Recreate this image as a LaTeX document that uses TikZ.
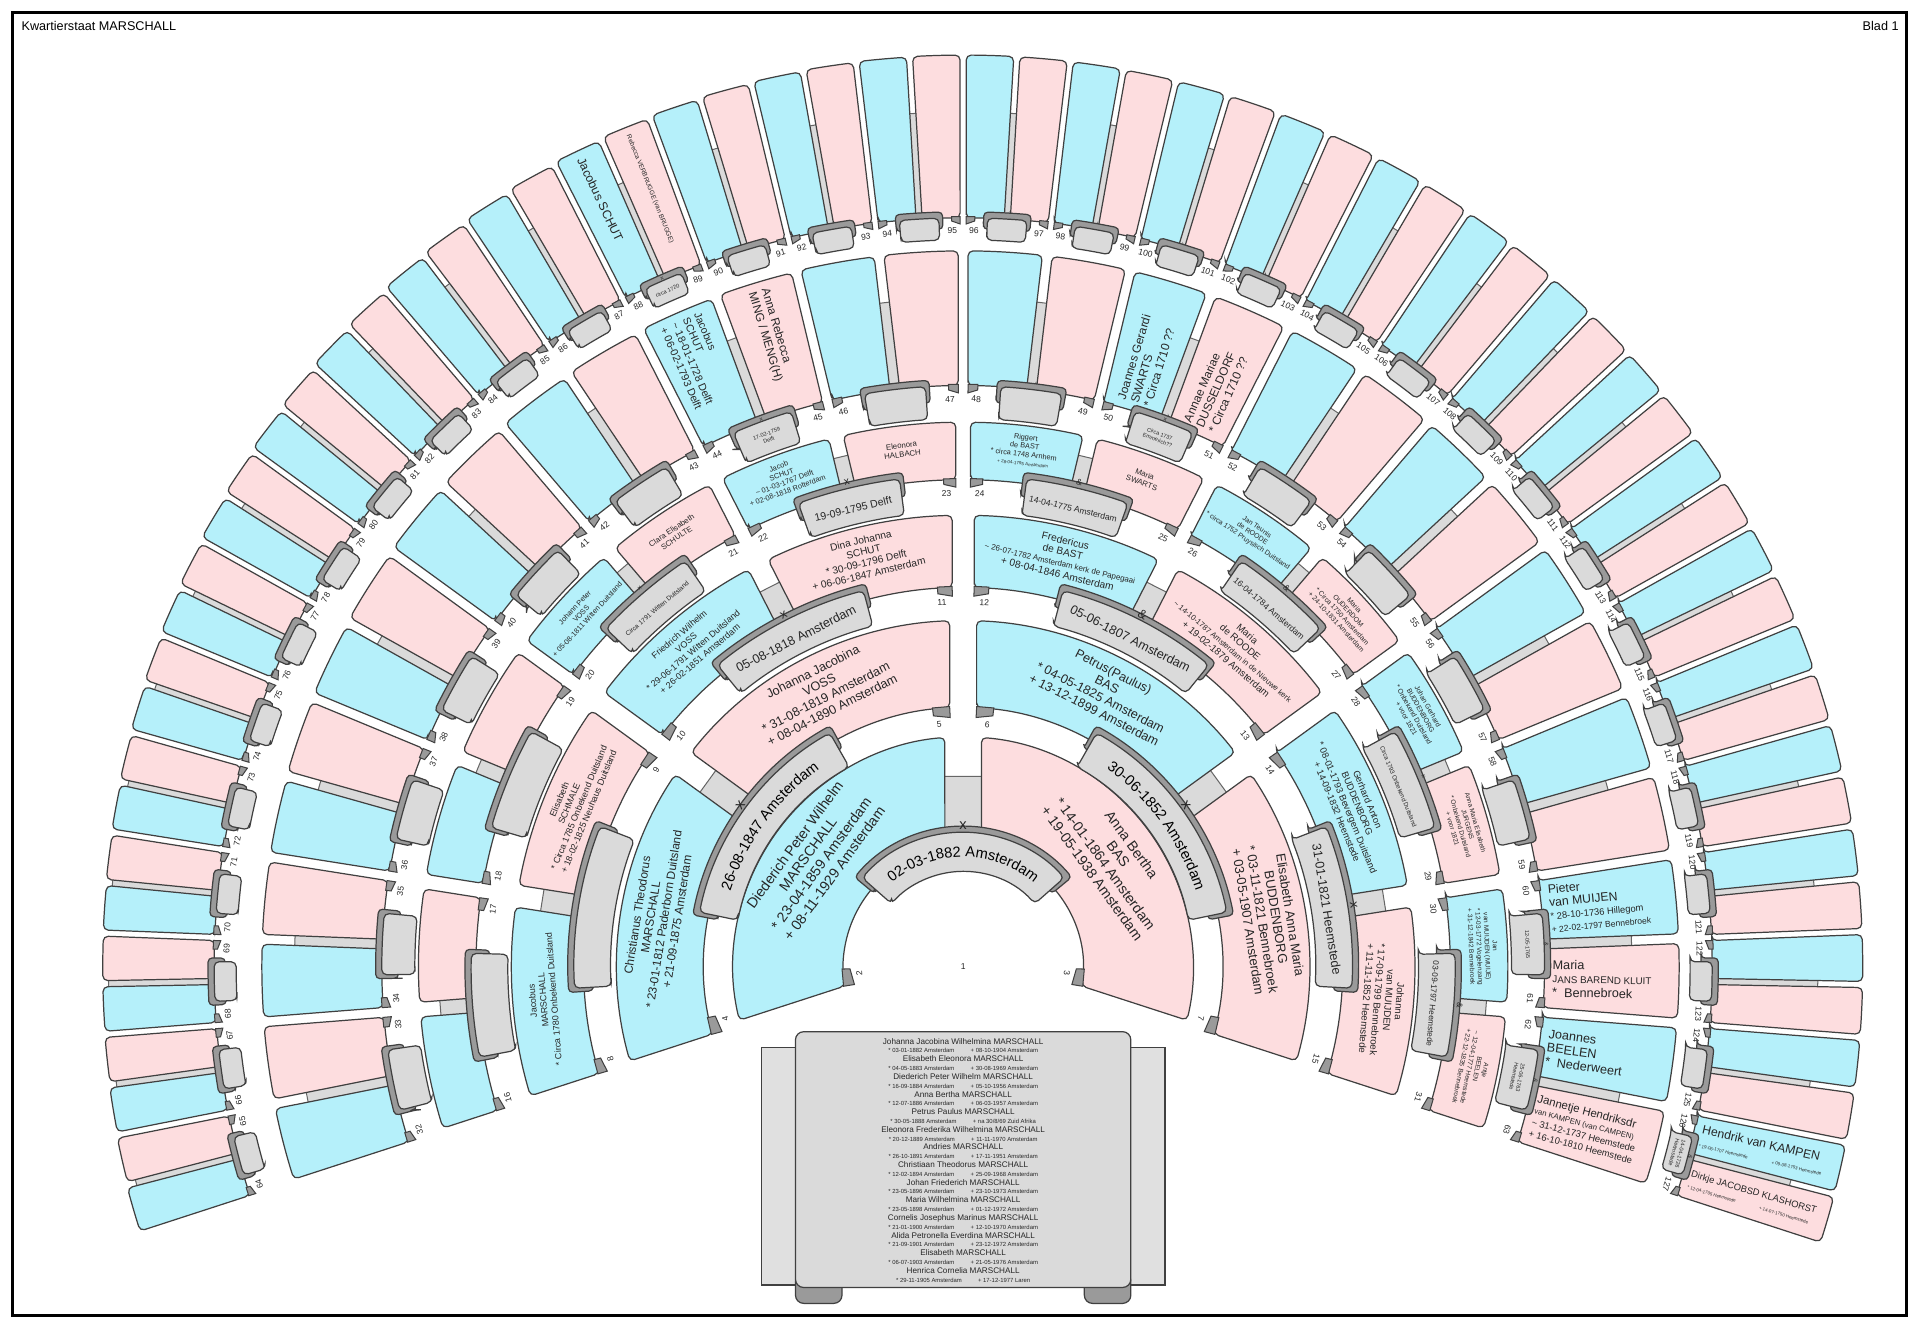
\documentclass[tikz,border=0pt]{standalone}
\usepackage{fontspec}
\setmainfont{Liberation Sans}
\usetikzlibrary{decorations.text}

\definecolor{manblue}{HTML}{B5F0FA}
\definecolor{womanpink}{HTML}{FDDDDF}
\definecolor{ribbon}{HTML}{DADADA}
\definecolor{ribbonback}{HTML}{9A9A9A}
\definecolor{inkgrey}{HTML}{262626}

% ring sizes per generation (index = generation), in px of the sheet
\def\rinner{{0,0,98,212,310,398,475,612}}
\def\router{{0,0,188,283,369,445,585,745}}
\def\shrinkleft{{0,0,0,0,0,0,12,42}}
\def\shrinkright{{0,0,0,0,0,0,0,10}}
\def\halfgap{{0,0,15,11,9,6,4,2.5}}
\def\tabin{{0,0,78,188,288,372,448,594}}
\def\tabout{{0,0,110,220,318,402,475,612}}
\def\flagw{{0,0,14,14,12,10,8,7}}
\def\flagd{{0,0,8,8,7,6,6,5}}

\tikzset{
  personbox/.style={draw=black!75, line width=0.3pt, rounded corners=1.2pt},
  ribbonbox/.style={draw=black!75, line width=0.3pt, fill=ribbon, rounded corners=1.2pt},
  ribbonshade/.style={draw=black!75, line width=0.3pt, fill=ribbonback, rounded corners=1pt},
  stembox/.style={draw=black!60, line width=0.25pt, fill=ribbon},
  flagbox/.style={draw=black!75, line width=0.25pt, fill=ribbonback},
  nrlabel/.style={font=\fontsize{2.1}{2.4}\selectfont, inner sep=0pt, text=inkgrey},
  persontext/.style={align=center, inner sep=0pt, text=inkgrey},
  marktext/.style={inner sep=0pt, text=inkgrey},
}

\newcommand{\genset}[1]{%
  \pgfmathtruncatemacro{\gN}{2^(#1-1)}%
  \pgfmathsetmacro{\gStep}{216/\gN}%
  \pgfmathsetmacro{\gRi}{\rinner[#1]}%
  \pgfmathsetmacro{\gRo}{\router[#1]}%
  \pgfmathsetmacro{\gHg}{\halfgap[#1]}%
  \pgfmathsetmacro{\gTi}{\tabin[#1]}%
  \pgfmathsetmacro{\gTo}{\tabout[#1]}%
  \pgfmathsetmacro{\gFw}{\flagw[#1]}%
  \pgfmathsetmacro{\gFd}{\flagd[#1]}%
}
% outer radius of a box in generation #1 at angle #2
\newcommand{\outerat}[2]{%
  \pgfmathsetmacro{\bRo}{\router[#1]-(#2>90 ? \shrinkleft[#1] : \shrinkright[#1])*cos(#2)^2}%
}

% person text across the ring
\newcommand{\ptext}[5]{%
  \genset{#2}%
  \pgfmathsetmacro{\tMid}{198-(#1-\gN+0.5)*\gStep}%
  \pgfmathsetmacro{\tRad}{0.42*\gRi+0.58*\gRo}%
  \node[persontext, font=\fontsize{#3}{#4}\selectfont, rotate=\tMid-90] (p#1) at (\tMid:\tRad) {#5};%
}
% person text along the radius (outer rings)
\newcommand{\rtext}[5]{%
  \genset{#2}%
  \pgfmathsetmacro{\tMid}{198-(#1-\gN+0.5)*\gStep}%
  \outerat{#2}{\tMid}%
  \ifdim\tMid pt<90pt
    \node[persontext, align=left, anchor=west, font=\fontsize{#3}{#4}\selectfont, rotate=\tMid] (p#1) at (\tMid:\gRi+6) {#5};%
  \else
    \pgfmathsetmacro{\tRot}{\tMid-180}%
    \node[persontext, align=left, anchor=west, font=\fontsize{#3}{#4}\selectfont, rotate=\tRot] (p#1) at (\tMid:\bRo-6) {#5};%
  \fi
}
% marriage text on the ribbon: bent on the two inner rings, straight further out
\newcommand{\mtext}[5]{%
  \genset{#2}%
  \pgfmathsetmacro{\cA}{198-(#1-\gN+1)*\gStep}%
  \pgfmathsetmacro{\tW}{0.49*\gStep}%
  \ifnum#2<4
    \pgfmathsetmacro{\tB}{(\gTi+\gTo)/2-#4*1.15}%
    \path[postaction={decorate}, decoration={text along path, text align=center,
      text={|\fontsize{#4}{#4}\selectfont|#5}}]
      (\cA+\tW:\tB) arc[start angle=\cA+\tW, end angle=\cA-\tW, radius=\tB*0.3pt];%
  \else
    \pgfmathsetmacro{\tB}{(\gTi+\gTo)/2-2}%
    \node[marktext, font=\fontsize{#4}{#4}\selectfont, rotate=\cA-90] (t#1) at (\cA:\tB) {#5};%
  \fi
  \node[marktext, font=\fontsize{#4}{#4}\selectfont, rotate=\cA-90] (m#1) at (\cA:\gTo+5) {#3};%
}
% marriage text on the small ribbons (outer rings)
\newcommand{\mnote}[4]{%
  \genset{#2}%
  \pgfmathsetmacro{\cA}{198-(#1-\gN+1)*\gStep}%
  \pgfmathsetmacro{\tRad}{(\gTi+\gTo)/2}%
  \node[marktext, align=center, font=\fontsize{1.35}{1.6}\selectfont, rotate=\cA-90] (t#1) at (\cA:\tRad) {#4};%
  \node[marktext, font=\fontsize{1.4}{1.6}\selectfont, rotate=\cA-90] (m#1) at (\cA:\gTo+2) {#3};%
}
\newcommand{\kidname}{\fontsize{2.0}{2.16}\selectfont}
\newcommand{\kiddate}{\fontsize{1.45}{2.16}\selectfont}

\begin{document}
\begin{tikzpicture}[x=0.3pt, y=0.3pt]
\useasboundingbox (-787,-292) rectangle (781,790);
\draw[line width=0.75pt] (-777,-285) rectangle (771,780);
\node[anchor=west, inner sep=0pt, font=\fontsize{3.1}{3.6}\selectfont] (title) at (-770,769) {Kwartierstaat MARSCHALL};
\node[anchor=east, inner sep=0pt, font=\fontsize{3.1}{3.6}\selectfont] (sheet) at (765,769) {Blad 1};

% rings, generation by generation
\foreach \g in {2,...,7}{
  \genset{\g}
  \pgfmathtruncatemacro{\gLast}{\gN-1}
  \pgfmathtruncatemacro{\gPairs}{\gN/2-1}
  % stems between partners
  \foreach \k in {0,...,\gPairs}{
    \pgfmathsetmacro{\cA}{198-(2*\k+1)*\gStep}
    \pgfmathsetmacro{\sB}{\gRi+0.65*(\gRo-\gRi)}
    \pgfmathsetmacro{\hw}{(\gHg+1.5)*57.2958}
    \draw[stembox] (\cA+\hw/\gTo:\gTo) -- (\cA+\hw/\sB:\sB) -- (\cA-\hw/\sB:\sB) -- (\cA-\hw/\gTo:\gTo) -- cycle;
  }
  % person boxes with their number
  \foreach \i in {0,...,\gLast}{
    \pgfmathtruncatemacro{\p}{\gN+\i}
    \pgfmathsetmacro{\aA}{198-\i*\gStep}
    \pgfmathsetmacro{\bA}{\aA-\gStep}
    \pgfmathsetmacro{\mA}{\aA-\gStep/2}
    \outerat{\g}{\mA}
    \pgfmathsetmacro{\aI}{\aA-\gHg/\gRi*57.2958}
    \pgfmathsetmacro{\aO}{\aA-\gHg/\bRo*57.2958}
    \pgfmathsetmacro{\bI}{\bA+\gHg/\gRi*57.2958}
    \pgfmathsetmacro{\bO}{\bA+\gHg/\bRo*57.2958}
    \ifodd\p\relax \def\pcol{womanpink}\else \def\pcol{manblue}\fi
    \draw[personbox, fill=\pcol] (\aI:\gRi) -- (\aO:\bRo) arc[start angle=\aO, end angle=\bO, radius=\bRo*0.3pt]
      -- (\bI:\gRi) arc[start angle=\bI, end angle=\aI, radius=\gRi*0.3pt] -- cycle;
    \ifodd\p\relax
      \pgfmathsetmacro{\fE}{\bI}
      \pgfmathsetmacro{\fF}{\fE+\gFw/\gRi*57.2958}
      \pgfmathsetmacro{\nA}{\bA+(\gHg+0.5*\gFw+3)/\gRi*57.2958}
    \else
      \pgfmathsetmacro{\fE}{\aI}
      \pgfmathsetmacro{\fF}{\fE-\gFw/\gRi*57.2958}
      \pgfmathsetmacro{\nA}{\aA-(\gHg+0.5*\gFw+3)/\gRi*57.2958}
    \fi
    \draw[flagbox] (\fE:\gRi+1) -- (\fE:\gRi-\gFd) -- (\fF:\gRi-\gFd+2.5) -- (\fF:\gRi+1) -- cycle;
    \node[nrlabel, rotate=\nA-90] (n\p) at (\nA:\gRi-\gFd-5) {\p};
  }
  % marriage ribbons
  \foreach \k in {0,...,\gPairs}{
    \pgfmathsetmacro{\cA}{198-(2*\k+1)*\gStep}
    \pgfmathsetmacro{\tW}{0.45*\gStep}
    \pgfmathsetmacro{\tX}{\tW+6/(\gTi+\gTo)*57.2958}
    \pgfmathsetmacro{\tSi}{(\gTi+\gTo)/2}
    \pgfmathsetmacro{\tSo}{\gTo+5}
    \draw[ribbonshade] (\cA+\tX:\tSi) -- (\cA+\tX:\tSo) arc[start angle=\cA+\tX, end angle=\cA-\tX, radius=\tSo*0.3pt]
      -- (\cA-\tX:\tSi) arc[start angle=\cA-\tX, end angle=\cA+\tX, radius=\tSi*0.3pt] -- cycle;
    \draw[ribbonbox] (\cA+\tW:\gTi) -- (\cA+\tW:\gTo) arc[start angle=\cA+\tW, end angle=\cA-\tW, radius=\gTo*0.3pt]
      -- (\cA-\tW:\gTi) arc[start angle=\cA-\tW, end angle=\cA+\tW, radius=\gTi*0.3pt] -- cycle;
  }
}
\node[nrlabel] (n1) at (0,0) {1};

% generation 2 and 3
\ptext{2}{2}{3.5}{4.0}{Diederich Peter Wilhelm\\MARSCHALL\\* 23-04-1859 Amsterdam\\+ 08-11-1929 Amsterdam}
\ptext{3}{2}{3.5}{4.0}{Anna Bertha\\BAS\\* 14-01-1864 Amsterdam\\+ 19-05-1938 Amsterdam}
\ptext{4}{3}{2.9}{3.3}{Christianus Theodorus\\MARSCHALL\\* 23-01-1812 Paderborn Duitsland\\+ 21-09-1875 Amsterdam}
\ptext{5}{3}{3.1}{3.5}{Johanna Jacobina\\VOSS\\* 31-08-1819 Amsterdam\\+ 08-04-1890 Amsterdam}
\ptext{6}{3}{3.1}{3.5}{Petrus(Paulus)\\BAS\\* 04-05-1825 Amsterdam\\+ 13-12-1899 Amsterdam}
\ptext{7}{3}{3.2}{3.5}{Elisabeth Anna Maria\\BUDDENBORG\\* 03-11-1821 Bennebroek\\+ 03-05-1907 Amsterdam}

% generation 4
\ptext{8}{4}{2.2}{2.6}{Jacobus\\MARSCHALL\\* Circa 1780 Onbekend Duitsland}
\ptext{9}{4}{2.2}{2.6}{Elisabeth\\SCHMALE\\* Circa 1785 Onbekend Duitsland\\+ 18-02-1825 Neuhaus Duitsland}
\ptext{10}{4}{2.2}{2.6}{Friedrich Wilhelm\\VOSS\\* 29-06-1791 Witten Duitsland\\+ 26-02-1851 Amsterdam}
\ptext{11}{4}{2.5}{2.8}{Dina Johanna\\SCHUT\\* 30-09-1796 Delft\\+ 06-06-1847 Amsterdam}
\ptext{12}{4}{2.5}{2.8}{Fredericus\\de BAST\\\fontsize{1.95}{2.8}\selectfont \textasciitilde{} 26-07-1782 Amsterdam kerk de Papegaai\\+ 08-04-1846 Amsterdam}
\ptext{13}{4}{2.4}{2.7}{Maria\\de ROODE\\\fontsize{1.9}{2.7}\selectfont \textasciitilde{} 14-10-1787 Amsterdam in de Nieuwe kerk\\+ 19-02-1879 Amsterdam}
\ptext{14}{4}{2.3}{2.7}{Gerhard Anton\\BUDDENBORG\\* 08-01-1793 Bevergem Duitsland\\+ 14-09-1832 Heemstede}
\ptext{15}{4}{2.4}{2.7}{Johanna\\van MUIJDEN\\* 17-09-1799 Bennebroek\\+ 11-11-1852 Heemstede}

% generation 5
\ptext{20}{5}{1.8}{2.1}{Johann Peter\\VOSS\\+ 05-08-1811 Witten Duitsland}
\ptext{21}{5}{1.9}{2.2}{Clara Elisabeth\\SCHULTE}
\ptext{22}{5}{1.8}{2.1}{Jacob\\SCHUT\\\textasciitilde{} 01-03-1767 Delft\\+ 02-08-1818 Rotterdam}
\ptext{23}{5}{1.9}{2.2}{Eleonora\\HALBACH}
\ptext{24}{5}{1.8}{2.1}{Riggert\\de BAST\\* circa 1748 Arnhem\\\fontsize{1.1}{2.1}\selectfont + 28-04-1795 Amsterdam}
\ptext{25}{5}{1.9}{2.2}{Maria\\SWARTS}
\ptext{26}{5}{1.7}{2.0}{Jan Teunis\\de ROODE\\* circa 1752 Pruysisch Duitsland}
\ptext{27}{5}{1.7}{2.0}{Maria\\OUDERDOM\\* Circa 1750 Amsterdam\\+ 24-10-1831 Amsterdam}
\ptext{28}{5}{1.7}{2.0}{Johan Gerhard\\BUDDENBORG\\* Onbekend Duitsland\\+ voor 1821}
\ptext{29}{5}{1.6}{1.95}{Anna Maria Elisabeth\\JURGENS\\* Onbekend Duitsland\\+ voor 1821}
\ptext{30}{5}{1.6}{1.95}{Jan\\van MUIJDEN (MUIJE)\\* 12-03-1772 Vogelenzang\\+ 31-12-1842 Bennebroek}
\ptext{31}{5}{1.6}{1.95}{Antje\\BEELEN\\\textasciitilde{} 12-04-1777 Heemstede\\+ 22-12-1835 Bennebroek}

% generation 6
\rtext{44}{6}{2.6}{3.0}{Jacobus\\SCHUT\\\textasciitilde{} 18-01-1728 Delft\\+ 06-02-1793 Delft}
\rtext{45}{6}{2.9}{3.3}{Anna Rebecca\\MING / MENG(H)}
\rtext{50}{6}{2.9}{3.3}{Joannes Gerardi\\SWARTS\\* Circa 1710 ??}
\rtext{51}{6}{2.9}{3.3}{Annae Mariae\\DUSSELDORF\\* Circa 1710 ??}
\rtext{60}{6}{3.0}{3.2}{Pieter\\van MUIJEN\\\fontsize{2.3}{3.2}\selectfont * 28-10-1736 Hillegom\\\fontsize{2.1}{3.2}\selectfont + 22-02-1797 Bennebroek}
\rtext{61}{6}{3.1}{3.4}{Maria\\\fontsize{2.4}{3.4}\selectfont JANS BAREND KLUIT\\*\ \ Bennebroek}
\rtext{62}{6}{3.1}{3.4}{Joannes\\BEELEN\\*\ \ Nederweert}
\rtext{63}{6}{2.8}{2.9}{Jannetje Hendriksdr\\\fontsize{1.9}{2.9}\selectfont van KAMPEN (van CAMPEN)\\\fontsize{2.3}{2.9}\selectfont \textasciitilde{} 31-12-1737 Heemstede\\\fontsize{2.3}{2.9}\selectfont + 16-10-1810 Heemstede}

% generation 7
\rtext{88}{7}{3.0}{3.4}{Jacobus SCHUT}
\rtext{89}{7}{1.6}{2.0}{Rebecca VERBRUGGE (van BRUGGE)}
\rtext{126}{7}{3.0}{3.4}{Hendrik van KAMPEN\\\fontsize{1.1}{2.4}\selectfont * 19-06-1707 Heemstede\hspace{6pt}+ 09-08-1753 Heemstede}
\rtext{127}{7}{2.3}{3.0}{Dirkje JACOBSD KLASHORST\\\fontsize{1.1}{2.4}\selectfont * 12-04-1705 Heemstede\hspace{6pt}+ 14-07-1750 Heemstede}

% marriages
\mtext{2}{2}{x}{3.6}{02-03-1882 Amsterdam}
\mtext{4}{3}{x}{3.6}{26-08-1847 Amsterdam}
\mtext{6}{3}{x}{3.6}{30-06-1852 Amsterdam}
\mtext{10}{4}{x}{3.1}{05-08-1818 Amsterdam}
\mtext{12}{4}{\&}{3.1}{05-06-1807 Amsterdam}
\mtext{14}{4}{x}{3.1}{31-01-1821 Heemstede}
\mtext{20}{5}{x}{1.6}{Circa 1791 Witten Duitsland}
\mtext{22}{5}{x}{2.6}{19-09-1795 Delft}
\mtext{24}{5}{\&}{2.1}{14-04-1775 Amsterdam}
\mtext{26}{5}{\&}{2.1}{16-04-1784 Amsterdam}
\mtext{28}{5}{x}{1.5}{Circa 1793 Onbekend Duitsland}
\mtext{30}{5}{\&}{2.0}{03-09-1797 Heemstede}
\mnote{44}{6}{x}{17-02-1759\\Delft}
\mnote{50}{6}{x}{Circa 1737\\Emmerich??}
\mnote{60}{6}{\&}{12-05-1765}
\mnote{62}{6}{\&}{25-06-1763\\Heemstede}
\mnote{88}{7}{x}{circa 1720}
\mnote{126}{7}{\&}{14-04-1726\\Heemstede}

% children of number 1
\draw[draw=black!75, line width=0.3pt, fill=ribbon!85] (-165,-66) rectangle (165,-260);
\draw[ribbonshade, rounded corners=2pt] (-137,-250) rectangle (-99,-275);
\draw[ribbonshade, rounded corners=2pt] (99,-250) rectangle (137,-275);
\draw[ribbonbox, rounded corners=2pt] (-137,-53) rectangle (137,-262);
\node[align=center, inner sep=0pt, text=inkgrey, font=\kidname] (kids) at (0,-158) {%
Johanna Jacobina Wilhelmina MARSCHALL\\
\kiddate * 03-01-1882 Amsterdam\hspace{4pt}+ 08-10-1904 Amsterdam\\
Elisabeth Eleonora MARSCHALL\\
\kiddate * 04-05-1883 Amsterdam\hspace{4pt}+ 30-08-1969 Amsterdam\\
Diederich Peter Wilhelm MARSCHALL\\
\kiddate * 16-09-1884 Amsterdam\hspace{4pt}+ 05-10-1956 Amsterdam\\
Anna Bertha MARSCHALL\\
\kiddate * 12-07-1886 Amsterdam\hspace{4pt}+ 06-03-1957 Amsterdam\\
Petrus Paulus MARSCHALL\\
\kiddate * 30-05-1888 Amsterdam\hspace{4pt}+ na 30/8/69 Zuid Afrika\\
Eleonora Frederika Wilhelmina MARSCHALL\\
\kiddate * 20-12-1889 Amsterdam\hspace{4pt}+ 11-11-1970 Amsterdam\\
Andries MARSCHALL\\
\kiddate * 26-10-1891 Amsterdam\hspace{4pt}+ 17-11-1951 Amsterdam\\
Christiaan Theodorus MARSCHALL\\
\kiddate * 12-02-1894 Amsterdam\hspace{4pt}+ 25-09-1968 Amsterdam\\
Johan Friederich MARSCHALL\\
\kiddate * 23-05-1896 Amsterdam\hspace{4pt}+ 23-10-1973 Amsterdam\\
Maria Wilhelmina MARSCHALL\\
\kiddate * 23-05-1898 Amsterdam\hspace{4pt}+ 01-12-1972 Amsterdam\\
Cornelis Josephus Marinus MARSCHALL\\
\kiddate * 21-01-1900 Amsterdam\hspace{4pt}+ 12-10-1970 Amsterdam\\
Alida Petronella Everdina MARSCHALL\\
\kiddate * 21-09-1901 Amsterdam\hspace{4pt}+ 23-12-1972 Amsterdam\\
Elisabeth MARSCHALL\\
\kiddate * 06-07-1903 Amsterdam\hspace{4pt}+ 21-05-1976 Amsterdam\\
Henrica Cornelia MARSCHALL\\
\kiddate * 29-11-1905 Amsterdam\hspace{4pt}+ 17-12-1977 Laren};
\end{tikzpicture}
\end{document}
